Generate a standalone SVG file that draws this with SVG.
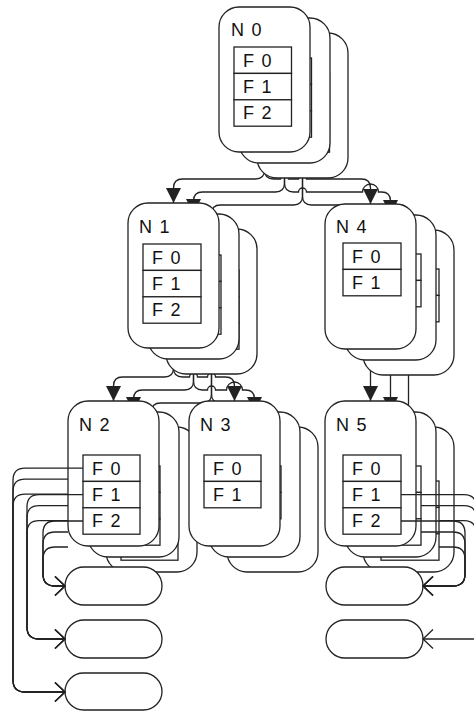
<svg xmlns="http://www.w3.org/2000/svg" width="474" height="711" viewBox="0 0 474 711">
<style>
.box{fill:#fff;stroke:#222;stroke-width:1.3}
.fld{fill:#fff;stroke:#222;stroke-width:1.3}
.oval{fill:#fff;stroke:#222;stroke-width:1.3}
.lbl{font-family:"Liberation Sans",Arial,sans-serif;font-size:18px;letter-spacing:1.3px;fill:#111}
.edge{fill:none;stroke:#222;stroke-width:1.3;marker-end:url(#tri)}
.link{fill:none;stroke:#222;stroke-width:1.3;marker-end:url(#open)}
.stub{fill:none;stroke:#222;stroke-width:1.3}
</style>
<defs>
<marker id="tri" markerUnits="userSpaceOnUse" markerWidth="15" markerHeight="15" viewBox="0 0 15 15" refX="15" refY="7.5" orient="auto"><path d="M0,0 L15,7.5 L0,15 z" fill="#222"/></marker>
<marker id="open" markerUnits="userSpaceOnUse" markerWidth="12" markerHeight="21" viewBox="-1 -1 12 21" refX="10" refY="9.5" orient="auto"><path d="M0,0 L10,9.5 L0,19" fill="none" stroke="#222" stroke-width="1.3"/></marker>
</defs>

<!-- tree edges, drawn beneath the node stacks -->
<g id="edges">
  <!-- N0 -> N1 / N4 -->
  <path class="edge" d="M264.5 152 V170 Q264.5 179 255.5 179 H182.5 Q173.5 179 173.5 188 V203"/>
  <path class="edge" d="M264.5 152 V170 Q264.5 179 273.5 179 H280.5 A4 4 0 0 1 288.5 179 H298.5 A4 4 0 0 1 306.5 179 H361.5 Q370.5 179 370.5 188 V204"/>
  <path class="edge" d="M284.5 163 V183 Q284.5 192 275.5 192 H202.5 Q193.5 192 193.5 201 V214"/>
  <path class="edge" d="M284.5 163 V183 Q284.5 192 293.5 192 H298.5 A4 4 0 0 1 306.5 192 H362.5 A8 8 0 0 1 378.5 192 H381.5 Q390.5 192 390.5 201 V215"/>
  <path class="edge" d="M302.5 177 V196 Q302.5 205 293.5 205 H220.5 Q211.5 205 211.5 214 V229"/>
  <path class="edge" d="M302.5 177 V196 Q302.5 205 311.5 205 H399.5 Q408.5 205 408.5 214 V230"/>
  <!-- N1 -> N2 / N3 -->
  <path class="edge" d="M173.5 347 V368 Q173.5 377 164.5 377 H122.5 Q113.5 377 113.5 386 V401"/>
  <path class="edge" d="M173.5 347 V368 Q173.5 377 182.5 377 H189.5 A4 4 0 0 1 197.5 377 H207.5 A4 4 0 0 1 215.5 377 H225.5 Q234.5 377 234.5 386 V401"/>
  <path class="edge" d="M193.5 358 V381 Q193.5 390 184.5 390 H142.5 Q133.5 390 133.5 399 V412"/>
  <path class="edge" d="M193.5 358 V381 Q193.5 390 202.5 390 H207.5 A4 4 0 0 1 215.5 390 H226.5 A8 8 0 0 1 242.5 390 H245.5 Q254.5 390 254.5 399 V412"/>
  <path class="edge" d="M211.5 373 V394 Q211.5 403 202.5 403 H160.5 Q151.5 403 151.5 412 V427"/>
  <path class="edge" d="M211.5 373 V394 Q211.5 403 220.5 403 H263.5 Q272.5 403 272.5 412 V427"/>
  <!-- N4 -> N5 -->
  <path class="edge" d="M370.5 347 V401"/>
  <path class="edge" d="M390.5 358 V412"/>
  <path class="edge" d="M408.5 373 V427"/>
</g>

<g id="n0">
  <g transform="translate(38,26)">
    <rect class="box" x="219" y="7" width="91" height="145" rx="20"/>
    <rect class="fld" x="234" y="47" width="57.5" height="26.4"/>
    <rect class="fld" x="234" y="73.4" width="57.5" height="26.4"/>
    <rect class="fld" x="234" y="99.8" width="57.5" height="26.4"/>
  </g>
  <g transform="translate(20,11)">
    <rect class="box" x="219" y="7" width="91" height="145" rx="20"/>
    <rect class="fld" x="234" y="47" width="57.5" height="26.4"/>
    <rect class="fld" x="234" y="73.4" width="57.5" height="26.4"/>
    <rect class="fld" x="234" y="99.8" width="57.5" height="26.4"/>
  </g>
  <rect class="box" x="219" y="7" width="91" height="145" rx="20"/>
  <text class="lbl" x="231" y="36">N 0</text>
  <rect class="fld" x="234" y="47" width="57.5" height="26.4"/>
  <rect class="fld" x="234" y="73.4" width="57.5" height="26.4"/>
  <rect class="fld" x="234" y="99.8" width="57.5" height="26.4"/>
  <text class="lbl" x="243" y="66.5">F 0</text>
  <text class="lbl" x="243" y="92.9">F 1</text>
  <text class="lbl" x="243" y="119.3">F 2</text>
</g>

<g id="n1">
  <g transform="translate(38,26)">
    <rect class="box" x="128" y="203" width="91" height="145" rx="20"/>
    <rect class="fld" x="143" y="244" width="58" height="26.4"/>
    <rect class="fld" x="143" y="270.4" width="58" height="26.4"/>
    <rect class="fld" x="143" y="296.8" width="58" height="26.4"/>
  </g>
  <g transform="translate(20,11)">
    <rect class="box" x="128" y="203" width="91" height="145" rx="20"/>
    <rect class="fld" x="143" y="244" width="58" height="26.4"/>
    <rect class="fld" x="143" y="270.4" width="58" height="26.4"/>
    <rect class="fld" x="143" y="296.8" width="58" height="26.4"/>
  </g>
  <rect class="box" x="128" y="203" width="91" height="145" rx="20"/>
  <text class="lbl" x="139" y="233">N 1</text>
  <rect class="fld" x="143" y="244" width="58" height="26.4"/>
  <rect class="fld" x="143" y="270.4" width="58" height="26.4"/>
  <rect class="fld" x="143" y="296.8" width="58" height="26.4"/>
  <text class="lbl" x="152" y="263.5">F 0</text>
  <text class="lbl" x="152" y="289.9">F 1</text>
  <text class="lbl" x="152" y="316.3">F 2</text>
</g>

<g id="n4">
  <g transform="translate(38,26)">
    <rect class="box" x="325" y="204" width="91" height="145" rx="20"/>
    <rect class="fld" x="343" y="243" width="58" height="26.4"/>
    <rect class="fld" x="343" y="269.4" width="58" height="26.4"/>
  </g>
  <g transform="translate(20,11)">
    <rect class="box" x="325" y="204" width="91" height="145" rx="20"/>
    <rect class="fld" x="343" y="243" width="58" height="26.4"/>
    <rect class="fld" x="343" y="269.4" width="58" height="26.4"/>
  </g>
  <rect class="box" x="325" y="204" width="91" height="145" rx="20"/>
  <text class="lbl" x="336" y="233">N 4</text>
  <rect class="fld" x="343" y="243" width="58" height="26.4"/>
  <rect class="fld" x="343" y="269.4" width="58" height="26.4"/>
  <text class="lbl" x="352" y="262.5">F 0</text>
  <text class="lbl" x="352" y="288.9">F 1</text>
</g>

<g id="n2">
  <g transform="translate(38,26)">
    <rect class="box" x="68" y="401" width="91" height="145" rx="20"/>
    <rect class="fld" x="83" y="455" width="57" height="26.4"/>
    <rect class="fld" x="83" y="481.4" width="57" height="26.4"/>
    <rect class="fld" x="83" y="507.8" width="57" height="26.4"/>
  </g>
  <g transform="translate(20,11)">
    <rect class="box" x="68" y="401" width="91" height="145" rx="20"/>
    <rect class="fld" x="83" y="455" width="57" height="26.4"/>
    <rect class="fld" x="83" y="481.4" width="57" height="26.4"/>
    <rect class="fld" x="83" y="507.8" width="57" height="26.4"/>
  </g>
  <rect class="box" x="68" y="401" width="91" height="145" rx="20"/>
  <text class="lbl" x="79" y="431">N 2</text>
  <rect class="fld" x="83" y="455" width="57" height="26.4"/>
  <rect class="fld" x="83" y="481.4" width="57" height="26.4"/>
  <rect class="fld" x="83" y="507.8" width="57" height="26.4"/>
  <text class="lbl" x="92" y="474.5">F 0</text>
  <text class="lbl" x="92" y="500.9">F 1</text>
  <text class="lbl" x="92" y="527.3">F 2</text>
</g>

<g id="n3">
  <g transform="translate(38,26)">
    <rect class="box" x="189" y="401" width="91" height="145" rx="20"/>
    <rect class="fld" x="204" y="455" width="57" height="26.4"/>
    <rect class="fld" x="204" y="481.4" width="57" height="26.4"/>
  </g>
  <g transform="translate(20,11)">
    <rect class="box" x="189" y="401" width="91" height="145" rx="20"/>
    <rect class="fld" x="204" y="455" width="57" height="26.4"/>
    <rect class="fld" x="204" y="481.4" width="57" height="26.4"/>
  </g>
  <rect class="box" x="189" y="401" width="91" height="145" rx="20"/>
  <text class="lbl" x="200" y="431">N 3</text>
  <rect class="fld" x="204" y="455" width="57" height="26.4"/>
  <rect class="fld" x="204" y="481.4" width="57" height="26.4"/>
  <text class="lbl" x="213" y="474.5">F 0</text>
  <text class="lbl" x="213" y="500.9">F 1</text>
</g>

<g id="n5">
  <g transform="translate(38,26)">
    <rect class="box" x="325" y="401" width="91" height="145" rx="20"/>
    <rect class="fld" x="343" y="455" width="58" height="26.4"/>
    <rect class="fld" x="343" y="481.4" width="58" height="26.4"/>
    <rect class="fld" x="343" y="507.8" width="58" height="26.4"/>
  </g>
  <g transform="translate(20,11)">
    <rect class="box" x="325" y="401" width="91" height="145" rx="20"/>
    <rect class="fld" x="343" y="455" width="58" height="26.4"/>
    <rect class="fld" x="343" y="481.4" width="58" height="26.4"/>
    <rect class="fld" x="343" y="507.8" width="58" height="26.4"/>
  </g>
  <rect class="box" x="325" y="401" width="91" height="145" rx="20"/>
  <text class="lbl" x="336" y="431">N 5</text>
  <rect class="fld" x="343" y="455" width="58" height="26.4"/>
  <rect class="fld" x="343" y="481.4" width="58" height="26.4"/>
  <rect class="fld" x="343" y="507.8" width="58" height="26.4"/>
  <text class="lbl" x="352" y="474.5">F 0</text>
  <text class="lbl" x="352" y="500.9">F 1</text>
  <text class="lbl" x="352" y="527.3">F 2</text>
</g>

<!-- value ovals -->
<g id="v0"><rect class="oval" x="65" y="567" width="97" height="38" rx="19"/></g>
<g id="v1"><rect class="oval" x="65" y="620" width="97" height="38" rx="19"/></g>
<g id="v2"><rect class="oval" x="65" y="673" width="97" height="37" rx="18.5"/></g>
<g id="v3"><rect class="oval" x="326" y="567" width="97" height="38" rx="19"/></g>
<g id="v4"><rect class="oval" x="326" y="620" width="97" height="38" rx="19"/></g>

<!-- field pointers, drawn on top -->
<g id="links">
  <path class="link" d="M83 468.2 H25 Q13 468.2 13 480.2 V680 Q13 692 25 692 H65"/>
  <path class="link" d="M68 479.2 H25 Q13 479.2 13 491.2 V680 Q13 692 25 692 H65"/>
  <path class="link" d="M68 494.2 H25 Q13 494.2 13 506.2 V680 Q13 692 25 692 H65"/>
  <path class="link" d="M83 494.6 H39 Q27 494.6 27 506.6 V627 Q27 639 39 639 H65"/>
  <path class="link" d="M68 505.6 H39 Q27 505.6 27 517.6 V627 Q27 639 39 639 H65"/>
  <path class="link" d="M68 520.6 H39 Q27 520.6 27 532.6 V627 Q27 639 39 639 H65"/>
  <path class="link" d="M83 521 H55 Q43 521 43 533 V574 Q43 586 55 586 H65"/>
  <path class="link" d="M68 532 H55 Q43 532 43 544 V574 Q43 586 55 586 H65"/>
  <path class="link" d="M68 547 H55 Q43 547 43 559 V574 Q43 586 55 586 H65"/>
  <path class="stub" d="M401 494.6 H464 Q476 494.6 476 506.6"/>
  <path class="stub" d="M421 505.6 H464 Q476 505.6 476 517.6"/>
  <path class="stub" d="M439 520.6 H464 Q476 520.6 476 532.6"/>
  <path class="link" d="M401 521 H453 Q465 521 465 533 V574 Q465 586 453 586 H423"/>
  <path class="link" d="M421 532 H453 Q465 532 465 544 V574 Q465 586 453 586 H423"/>
  <path class="link" d="M439 547 H453 Q465 547 465 559 V574 Q465 586 453 586 H423"/>
  <path class="link" d="M474 639 H423"/>
</g>
</svg>
